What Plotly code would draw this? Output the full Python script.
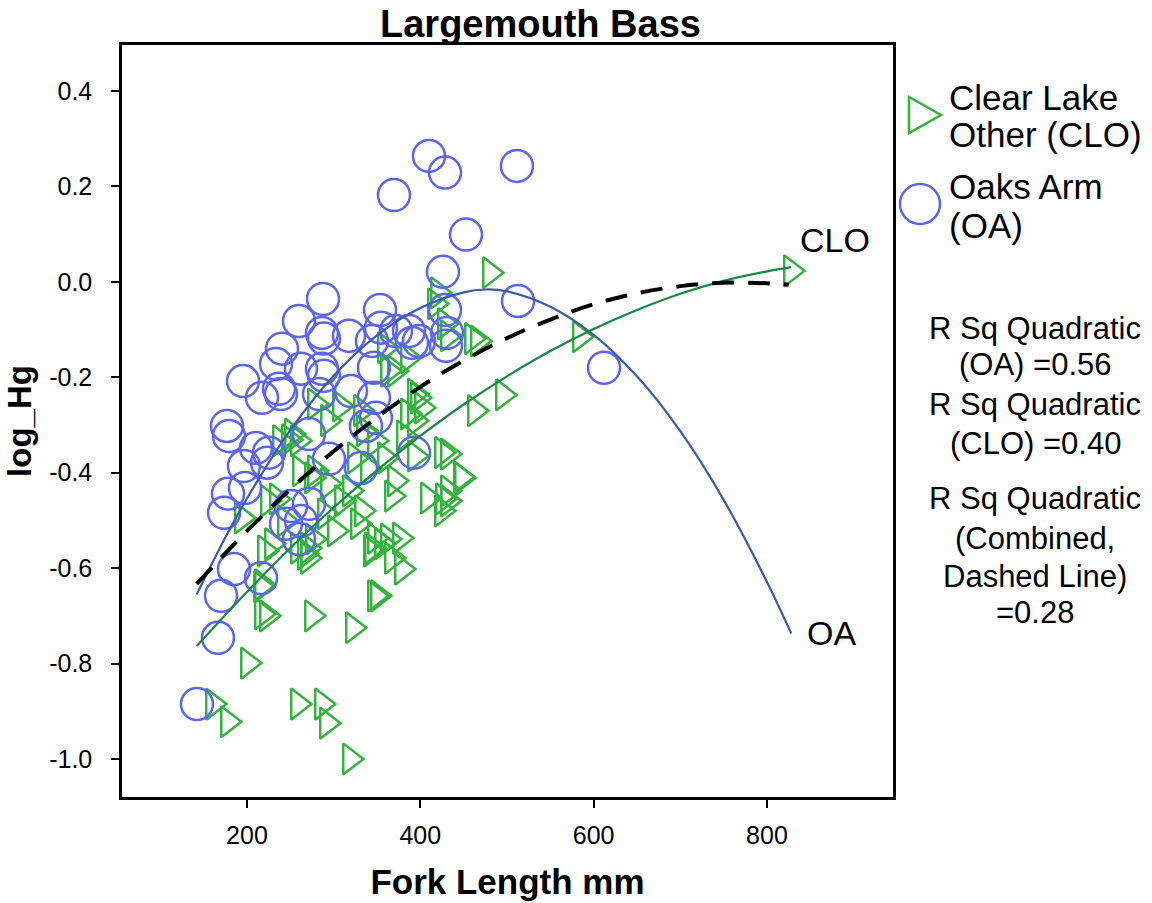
import plotly.graph_objects as go

# ---------------- data ----------------
oa_len = [410.0, 428.5, 369.6, 452.7, 426.1, 511.5, 287.7, 260.0, 353.5, 512.7,
          428.5, 286.5, 288.8, 317.7, 344.2, 354.6, 371.9, 386.9, 390.4, 398.5,
          430.8, 429.6, 240.4, 233.5, 262.3, 286.5, 288.8, 346.5, 195.4, 217.3,
          236.9, 239.2, 283.1, 320.0, 346.5, 176.9, 179.2, 210.4, 225.4, 223.1,
          271.5, 294.6, 331.5, 337.3, 348.8, 392.7, 196.5, 197.7, 178.1, 173.5,
          250.8, 271.5, 245.0, 260.0, 262.3, 185.0, 216.2, 170.0, 166.5, 142.3,
          611.9]
oa_hg = [0.264, 0.229, 0.182, 0.099, 0.021, 0.243, -0.036, -0.082, -0.059, -0.040,
         -0.059, -0.107, -0.119, -0.113, -0.124, -0.096, -0.103, -0.103, -0.128, -0.124,
         -0.107, -0.134, -0.140, -0.172, -0.182, -0.182, -0.197, -0.180, -0.208, -0.243,
         -0.224, -0.235, -0.235, -0.229, -0.243, -0.302, -0.323, -0.348, -0.358, -0.379,
         -0.319, -0.371, -0.390, -0.302, -0.285, -0.358, -0.386, -0.432, -0.444, -0.484,
         -0.470, -0.465, -0.507, -0.539, -0.501, -0.602, -0.621, -0.658, -0.746, -0.885,
         -0.180]

clo_len = [480.4, 584.2, 827.7, 466.5, 463.1, 495.4, 425.0, 446.9, 408.8, 426.2,
           425.0, 431.9, 376.5, 355.8, 378.8, 347.7, 351.1, 322.3, 275.0, 217.3,
           223.1, 201.2, 217.3, 160.8, 178.1, 258.8, 286.5, 292.3, 318.8, 194.2,
           234.6, 228.8, 248.5, 270.4, 416.9, 428.5, 420.4, 431.9, 459.6, 370.8,
           393.8, 359.2, 385.8, 362.7, 397.3, 401.9, 393.8, 385.8, 278.5, 293.5,
           258.8, 251.9, 431.9, 324.6, 347.7, 359.2, 339.6, 278.5, 275.0, 293.5,
           367.3, 431.9, 448.1, 309.6, 290.0, 332.7, 328.1, 362.7, 347.7, 270.4,
           344.2, 367.3, 238.1, 224.2, 276.2, 258.8, 216.2, 220.8, 266.9, 343.1,
           307.3, 331.5, 335.0, 381.1, 370.8, 393.8, 261.2, 243.8, 318.8, 301.5]
clo_hg = [0.019, -0.115, 0.023, -0.124, -0.270, -0.237, -0.358, -0.409, -0.453, -0.455,
          -0.480, -0.459, -0.537, -0.549, -0.602, -0.658, -0.658, -0.725, -0.700, -0.696,
          -0.700, -0.799, -0.635, -0.885, -0.922, -0.885, -0.885, -0.925, -1.000, -0.495,
          -0.455, -0.549, -0.331, -0.579, -0.046, -0.088, -0.023, -0.113, -0.119, -0.187,
          -0.235, -0.138, -0.159, -0.187, -0.243, -0.264, -0.291, -0.277, -0.256, -0.291,
          -0.333, -0.319, -0.361, -0.369, -0.333, -0.369, -0.390, -0.396, -0.411, -0.423,
          -0.449, -0.438, -0.411, -0.459, -0.486, -0.480, -0.507, -0.539, -0.537, -0.558,
          -0.558, -0.579, -0.333, -0.459, -0.539, -0.558, -0.639, -0.564, -0.570, -0.564,
          -0.260, -0.270, -0.312, -0.323, -0.417, -0.365, -0.396, -0.501, -0.438, -0.522]

# fitted curves
oa_fit_x = [142, 175, 200, 250, 300, 350, 400, 450, 475, 500, 550, 600, 650, 700, 750, 800, 828]
oa_fit_y = [-0.655, -0.536, -0.454, -0.311, -0.197, -0.112, -0.055, -0.022, -0.016, -0.020,
            -0.052, -0.111, -0.198, -0.313, -0.457, -0.629, -0.737]
clo_fit_x = [142, 175, 200, 250, 300, 350, 400, 450, 500, 550, 600, 650, 700, 750, 800, 828]
clo_fit_y = [-0.763, -0.698, -0.650, -0.558, -0.473, -0.395, -0.323, -0.257, -0.198, -0.145,
             -0.099, -0.059, -0.025, 0.002, 0.022, 0.031]
all_fit_x = [142, 175, 200, 250, 300, 350, 400, 450, 500, 550, 600, 650, 700, 750, 800, 825]
all_fit_y = [-0.633, -0.569, -0.522, -0.435, -0.355, -0.284, -0.220, -0.165, -0.118, -0.079,
             -0.047, -0.024, -0.009, -0.002, -0.003, -0.006]

x_ticks = [200, 400, 600, 800]
y_ticks = [0.4, 0.2, 0.0, -0.2, -0.4, -0.6, -0.8, -1.0]
y_tick_text = ["0.4", "0.2", "0.0", "-0.2", "-0.4", "-0.6", "-0.8", "-1.0"]

rsq_lines = ["R Sq Quadratic", "(OA) =0.56", "R Sq Quadratic", "(CLO) =0.40",
             "R Sq Quadratic", "(Combined,", "Dashed Line)", "=0.28"]

# ---------------- styling ----------------
W, H = 1152, 903
L, R, T, B = 122, 893, 45, 797
FONT = "Liberation Sans, Arial, sans-serif"
GREEN = "rgb(52,178,62)"
BLUE = "rgb(92,100,245)"
GREEN_LINE = "rgb(26,135,70)"
BLUE_LINE = "rgb(60,90,168)"


def px(xp):
    return (xp - L) / (R - L)


def py(yp):
    return (B - yp) / (B - T)


fig = go.Figure()

fig.add_trace(go.Scatter(x=clo_len, y=clo_hg, mode="markers", name="Clear Lake Other (CLO)",
                         marker=dict(symbol="triangle-right-open", size=27,
                                     color=GREEN, line=dict(color=GREEN, width=2.5)),
                         showlegend=False))
fig.add_trace(go.Scatter(x=oa_len, y=oa_hg, mode="markers", name="Oaks Arm (OA)",
                         marker=dict(symbol="circle-open", size=32,
                                     color=BLUE, line=dict(color=BLUE, width=2.5)),
                         showlegend=False))
fig.add_trace(go.Scatter(x=oa_fit_x, y=oa_fit_y, mode="lines", line_shape="spline",
                         line=dict(color=BLUE_LINE, width=2.2), showlegend=False))
fig.add_trace(go.Scatter(x=clo_fit_x, y=clo_fit_y, mode="lines", line_shape="spline",
                         line=dict(color=GREEN_LINE, width=2.2), showlegend=False))
fig.add_trace(go.Scatter(x=all_fit_x, y=all_fit_y, mode="lines", line_shape="spline",
                         line=dict(color="black", width=4, dash="22px,14px"), showlegend=False))

axis_common = dict(showgrid=False, zeroline=False, showline=True, mirror=True,
                   linecolor="black", linewidth=2.5, ticks="outside", ticklen=8,
                   tickwidth=2, tickcolor="black",
                   tickfont=dict(family=FONT, size=25, color="black"))

fig.update_xaxes(range=[55.8, 945.4], tickvals=x_ticks, ticktext=[str(v) for v in x_ticks],
                 ticklabelstandoff=6,
                 title=dict(text="<b>Fork Length mm</b>", font=dict(family=FONT, size=35, color="black"),
                            standoff=22),
                 **axis_common)
fig.update_yaxes(range=[-1.0797, 0.4964], tickvals=y_ticks, ticktext=y_tick_text,
                 ticklabelstandoff=14,
                 title=dict(text="<b>log_Hg</b>", font=dict(family=FONT, size=33, color="black"),
                            standoff=8),
                 **axis_common)

ann = []
ann.append(dict(text="<b>Largemouth Bass</b>", xref="paper", yref="paper", x=px(540), y=py(24),
                showarrow=False, font=dict(family=FONT, size=38, color="black"),
                xanchor="center", yanchor="middle"))
ann.append(dict(text="CLO", xref="x", yref="y", x=200 + (835 - 247) / 0.8667, y=(281 - 239) / 477.1,
                showarrow=False, font=dict(family=FONT, size=34, color="black"),
                xanchor="center", yanchor="middle"))
ann.append(dict(text="OA", xref="x", yref="y", x=200 + (832 - 247) / 0.8667, y=(281 - 632) / 477.1,
                showarrow=False, font=dict(family=FONT, size=34, color="black"),
                xanchor="center", yanchor="middle"))

legend_lines = [("Clear Lake", 97), ("Other (CLO)", 134), ("Oaks Arm", 186), ("(OA)", 225)]
for txt, yy in legend_lines:
    ann.append(dict(text=txt, xref="paper", yref="paper", x=px(947), y=py(yy),
                    showarrow=False, font=dict(family=FONT, size=35, color="black"),
                    xanchor="left", yanchor="middle"))

rsq_y = [328, 364, 404, 443, 498, 538, 576, 612]
for txt, yy in zip(rsq_lines, rsq_y):
    ann.append(dict(text=txt, xref="paper", yref="paper", x=px(1035), y=py(yy),
                    showarrow=False, font=dict(family=FONT, size=31, color="black"),
                    xanchor="center", yanchor="middle"))

shapes = []
# legend glyphs
shapes.append(dict(type="path", xref="paper", yref="paper",
                   path=f"M {px(909)} {py(97)} L {px(941)} {py(115)} L {px(909)} {py(133)} Z",
                   line=dict(color=GREEN, width=2.5)))
shapes.append(dict(type="circle", xref="paper", yref="paper",
                   x0=px(900), x1=px(940), y0=py(224), y1=py(184),
                   line=dict(color=BLUE, width=2.5)))

fig.update_layout(width=W, height=H, margin=dict(l=L, r=W - R, t=T, b=H - B, autoexpand=False),
                  paper_bgcolor="white", plot_bgcolor="white",
                  font=dict(family=FONT, color="black"),
                  annotations=ann, shapes=shapes, showlegend=False)

fig.write_html("out.html")
